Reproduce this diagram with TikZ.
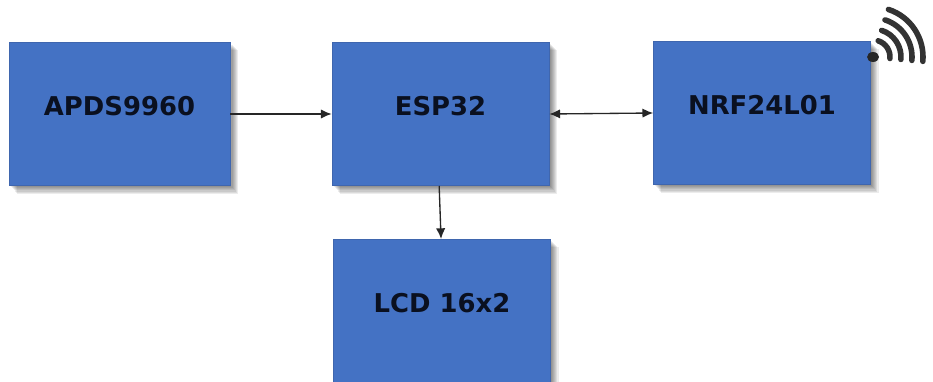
\documentclass[tikz,border=0pt]{standalone}
\usepackage{fontspec}
\setmainfont{DejaVu Sans}
\usetikzlibrary{arrows.meta}
\definecolor{boxblue}{HTML}{4472C4}
\definecolor{boxedge}{HTML}{3F66AE}
\definecolor{inktext}{HTML}{0A1020}
\tikzset{
  x=0.75pt,y=-0.75pt,
  shadowlayer/.style={preaction={fill=black,fill opacity=0.075,draw=none,transform canvas={shift={(#1pt,-#1pt)}}}},
  blockbox/.style={draw=boxedge,line width=0.5pt,fill=boxblue,inner sep=0pt,minimum width=162.8pt,minimum height=107.5pt,
    font=\fontsize{19.4}{21}\selectfont\bfseries,text=inktext,
    shadowlayer=6,shadowlayer=5.2,shadowlayer=4.4,shadowlayer=3.6,shadowlayer=2.8,shadowlayer=2,shadowlayer=1.2},
  link/.style={draw=black!85,line width=1pt},
  tipend/.style={-{Latex[length=8pt,width=7pt]}},
  tipboth/.style={{Latex[length=8pt,width=7pt]}-{Latex[length=8pt,width=7pt]}},
  wave/.style={draw=black!80,line width=4.2pt,line cap=round}
}
\newcommand{\blocktext}[1]{\raisebox{-1pt}[0pt][0pt]{#1}}
\begin{document}
\begin{tikzpicture}
\useasboundingbox (0,0) rectangle (933,382);
\fill[white] (0,0) rectangle (933,382);
\begin{scope}
\clip (0,0) rectangle (933,382);
\node[blockbox,minimum width=165.5pt] (apds) at (119.5,114) {\blocktext{APDS9960}};
\node[blockbox] (esp) at (440.5,114) {\blocktext{ESP32}};
\node[blockbox] (nrf) at (762,113) {\blocktext{NRF24L01}};
\node[blockbox] (lcd) at (442,311) {\blocktext{LCD 16x2}};
\end{scope}
\draw[link,tipend] (apds.east) -- (esp.west);
\draw[link,tipboth] (esp.east) -- (nrf.west);
\draw[link,tipend] ([xshift=-1pt]esp.south) -- ([xshift=-0.7pt]lcd.north);
\coordinate (wifi) at (873,57);
\fill[black!85] (wifi) ellipse (6 and 5);
\foreach \r in {17,28,39,50}{
  \draw[wave] ([shift={(-5:\r*0.75pt)}]wifi) arc[start angle=-5,end angle=72,radius=\r*0.75pt];
}
\end{tikzpicture}
\end{document}
